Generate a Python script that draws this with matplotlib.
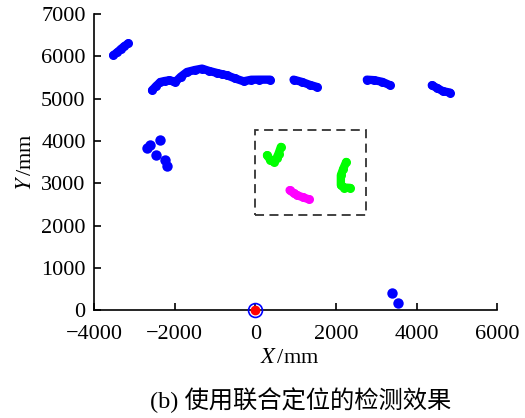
import matplotlib
matplotlib.use("Agg")
import matplotlib.pyplot as plt
from matplotlib.patches import Rectangle

plt.rcParams['font.family'] = ['Liberation Serif', 'Noto Sans CJK SC']
plt.rcParams['mathtext.fontset'] = 'stix'

# blue wall segments (x, y in mm)
blue_segments = [
    ([-3520, -3420, -3330, -3250, -3150], [6030, 6100, 6180, 6240, 6310]),
    ([-2560, -2460, -2354, -2250, -2131, -2050, -1982, -1850, -1693, -1500, -1321, -1150, -949, -820, -701, -500, -290, -100, 100, 372],
     [5200, 5300, 5397, 5420, 5437, 5420, 5397, 5520, 5634, 5680, 5713, 5660, 5610, 5580, 5555, 5480, 5413, 5450, 5452, 5452]),
    ([950, 1150, 1350, 1528], [5452, 5400, 5330, 5280]),
    ([2767, 2950, 3150, 3345], [5452, 5440, 5400, 5320]),
    ([4378, 4500, 4650, 4832], [5319, 5260, 5180, 5146]),
]
blue_points_x = [-2684, -2600, -2371, -2453, -2230, -2188, 3403, 3552]
blue_points_y = [3846, 3900, 4019, 3664, 3546, 3404, 409, 158]

green_segments = [
    ([290, 370, 454, 530, 578, 636], [3664, 3560, 3506, 3600, 3704, 3862]),
    ([2255, 2180, 2123, 2123, 2200, 2354], [3506, 3340, 3191, 2955, 2900, 2892]),
]
magenta_x = [851, 950, 1033, 1180, 1321]
magenta_y = [2837, 2770, 2719, 2670, 2624]

box_x0, box_y0, box_x1, box_y1 = 0, 2262, 2750, 4255

fig = plt.figure(figsize=(5.25, 4.18), dpi=100)
ax = fig.add_axes([0.179, 0.258, 0.768, 0.708])

def seg(x, y, c):
    ax.plot(x, y, '-o', color=c, lw=6, ms=6.5, mec=c, mew=0, solid_capstyle='round',
            solid_joinstyle='round', clip_on=False, zorder=3)

for x, y in blue_segments:
    seg(x, y, 'blue')
ax.plot(blue_points_x, blue_points_y, 'o', color='blue', ms=7.5, mew=0, clip_on=False, zorder=3)
for x, y in green_segments:
    seg(x, y, '#00ff00')
seg(magenta_x, magenta_y, '#ff00ff')

ax.add_patch(Rectangle((box_x0, box_y0), box_x1 - box_x0, box_y1 - box_y0,
                       fill=False, ls=(0, (5, 3)), lw=1.3, ec='#333333', zorder=2))

ax.plot([0], [0], 'o', mfc='none', mec='blue', ms=10, mew=1.2, clip_on=False, zorder=5)
ax.plot([0], [0], 'o', color='red', ms=6, clip_on=False, zorder=6)

ax.set_xlim(-4000, 6000)
ax.set_ylim(0, 7000)
ax.set_xticks([-4000, -2000, 0, 2000, 4000, 6000])
ax.set_yticks(range(0, 7001, 1000))
ax.set_xticklabels(['\u22124000', '\u22122000', '0', '2000', '4000', '6000'])
for s in ['top', 'right']:
    ax.spines[s].set_visible(False)
ax.spines['left'].set_linewidth(1.2)
ax.spines['bottom'].set_linewidth(1.2)
ax.tick_params(direction='in', length=5, width=1.2, labelsize=16)
ax.tick_params(axis='x', pad=11)
ax.tick_params(axis='y', pad=6)
ax.set_xlabel('$X\\,$/mm', fontsize=16, labelpad=3)
ax.xaxis.set_label_coords(0.485, -0.13)
ax.set_ylabel('$Y\\,$/mm', fontsize=16, labelpad=4)

fig.text(0.572, 0.042, '(b) 使用联合定位的检测效果', ha='center', va='center', fontsize=17.5)

fig.savefig('out.png', dpi=100)
